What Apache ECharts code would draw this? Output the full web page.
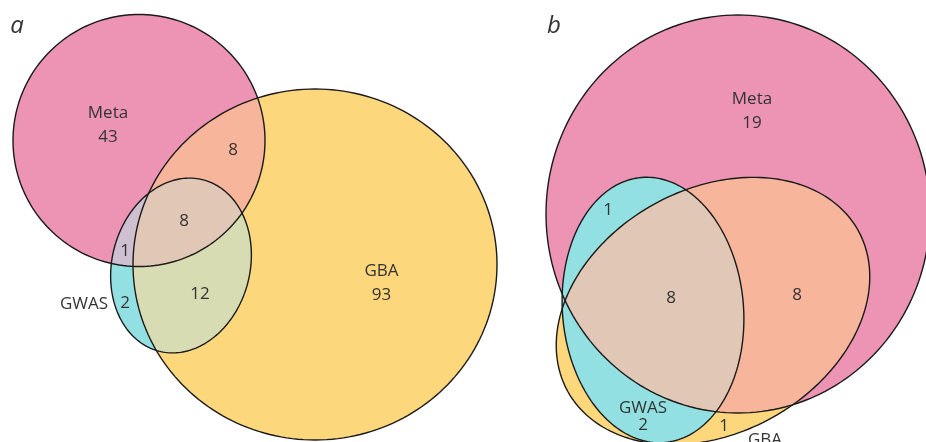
<!DOCTYPE html>
<html>
<head>
<meta charset="utf-8">
<script src="https://cdn.jsdelivr.net/npm/echarts@6/dist/echarts.min.js"></script>
<style>
  html, body { margin: 0; padding: 0; background: #fff; }
  #chart { width: 926px; height: 442px; }
</style>
</head>
<body>
<div id="chart"></div>
<script>
// set names and region counts
const setNames = ['Meta', 'GBA', 'GWAS']
const regionsA = ['Meta', 'Meta & GBA', 'Meta & GBA & GWAS', 'Meta & GWAS', 'GWAS', 'GBA & GWAS', 'GBA']
const countsA = [43, 8, 8, 1, 2, 12, 93]
const regionsB = ['Meta', 'Meta & GWAS', 'Meta & GBA & GWAS', 'Meta & GBA', 'GWAS', 'GBA']
const countsB = [19, 1, 8, 8, 2, 1]
const panelLetters = ['a', 'b']

// layout (axis units, 1 unit = 5px): ellipse [cx, cy, rx, ry, rotation deg]
const shapesA = {
  Meta: [27.8, 28.1, 25.2, 25.2, 0],
  GBA: [63, 52.9, 36.4, 35.1, 0],
  GWAS: [36.2, 53.1, 13.8, 17.7, 14.5],
}
const shapesB = {
  Meta: [147.6, 42.8, 38.4, 39.8, 0],
  GBA: [142.6, 62.2, 33.2, 24.4, -29],
  GWAS: [130.6, 62, 18.1, 26.6, -5],
}
// label positions, same order as the arrays above
const countPosA = [[21.6, 27.4], [46.6, 30], [36.8, 44.2], [25, 50.2], [25, 60.6], [40, 58.8], [76.3, 59]]
const namePosA = [[21.6, 22.6], [76.3, 54.3], [16.8, 60.8]]
const countPosB = [[150.4, 24.6], [121.6, 42], [134.2, 59.6], [159.4, 59], [128.6, 85], [144.8, 85.2]]
const namePosB = [[150.4, 19.8], [153, 88], [128.6, 81.6]]
const letterPos = [[3.4, 5.2], [110.8, 5.2]]

// fill layers, painted in order; later layers cover the overlaps
const fillsA = [
  [['Meta'], '#ed94b4'],
  [['GBA'], '#fcd77b'],
  [['GWAS'], '#93e0e2'],
  [['Meta', 'GBA'], '#f7b69b'],
  [['Meta', 'GWAS'], '#cebfd1'],
  [['GBA', 'GWAS'], '#d8dcb3'],
  [['Meta', 'GBA', 'GWAS'], '#e1c7b5'],
]
const fillsB = [
  [['Meta'], '#ed94b4'],
  [['GBA'], '#fcd77b'],
  [['Meta', 'GBA'], '#f7b69b'],
  [['GWAS'], '#93e0e2'],
  [['Meta', 'GBA', 'GWAS'], '#e1c7b5'],
]

const textColor = '#333'
const font = '"Open Sans", "Noto Sans", sans-serif'

function ellipsePts(api, e) {
  const [cx, cy, rx, ry, deg] = e
  const th = deg * Math.PI / 180
  const c = Math.cos(th), s = Math.sin(th)
  const pts = []
  for (let i = 0; i < 200; i++) {
    const t = i / 200 * 2 * Math.PI
    const ux = rx * Math.cos(t), uy = ry * Math.sin(t)
    pts.push(api.coord([cx + ux * c - uy * s, cy + ux * s + uy * c]))
  }
  return pts
}

function fillSeries(shapes, fills) {
  return {
    type: 'custom',
    silent: true,
    data: fills.map((f, i) => [i, 0]),
    renderItem: (params, api) => {
      const [sets, color] = fills[params.dataIndex]
      const polys = sets.map((s) => ellipsePts(api, shapes[s]))
      let el = { type: 'polygon', shape: { points: polys[0] }, style: { fill: color } }
      if (polys[1]) el.clipPath = { type: 'polygon', shape: { points: polys[1] } }
      if (polys[2]) {
        el = { type: 'group', clipPath: { type: 'polygon', shape: { points: polys[2] } }, children: [el] }
      }
      return el
    },
  }
}

function outlineSeries(shapes) {
  return {
    type: 'custom',
    silent: true,
    data: setNames.map((n, i) => [i, 0]),
    renderItem: (params, api) => ({
      type: 'polygon',
      shape: { points: ellipsePts(api, shapes[setNames[params.dataIndex]]) },
      style: { fill: 'none', stroke: '#1a1a1a', lineWidth: 1.4 },
    }),
  }
}

function textSeries(texts, positions, size, italic) {
  return {
    type: 'custom',
    silent: true,
    data: texts.map((t, i) => [i, 0]),
    renderItem: (params, api) => {
      const p = api.coord(positions[params.dataIndex])
      return {
        type: 'text',
        x: p[0],
        y: p[1],
        style: {
          text: String(texts[params.dataIndex]),
          fontSize: size,
          fontFamily: font,
          fontStyle: italic ? 'italic' : 'normal',
          fill: textColor,
          align: 'center',
          verticalAlign: 'middle',
        },
      }
    },
  }
}

const chart = echarts.init(document.getElementById('chart'))

chart.setOption({
  animation: false,
  backgroundColor: '#fff',
  grid: { left: 0, right: 0, top: 0, bottom: 0 },
  xAxis: { type: 'value', min: 0, max: 185.2, show: false },
  yAxis: { type: 'value', min: 0, max: 88.4, inverse: true, show: false },
  series: [
    fillSeries(shapesA, fillsA),
    fillSeries(shapesB, fillsB),
    outlineSeries(shapesA),
    outlineSeries(shapesB),
    textSeries(countsA, countPosA, 17),
    textSeries(setNames, namePosA, 17),
    textSeries(countsB, countPosB, 17),
    textSeries(setNames, namePosB, 17),
    textSeries(panelLetters, letterPos, 24, true),
  ],
})

window.addEventListener('resize', () => chart.resize())
</script>
</body>
